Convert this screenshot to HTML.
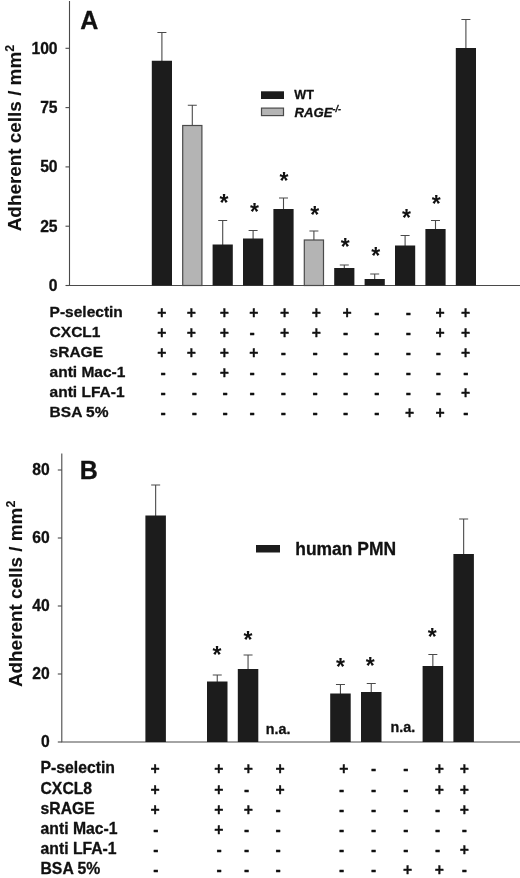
<!DOCTYPE html>
<html lang="en"><head><meta charset="utf-8"><title>Figure</title>
<style>html,body{margin:0;padding:0;background:#fff}svg{display:block}text{fill:#111;stroke:#111;stroke-width:0.3px;stroke-linejoin:round}</style>
</head><body>
<svg width="520" height="878" viewBox="0 0 520 878" font-family="Liberation Sans, Arial, Helvetica, sans-serif" font-weight="bold">
<rect width="520" height="878" fill="#fff"/>
<path d="M69.5 1V285.5H520" stroke="#4a4a4a" stroke-width="1.1" fill="none"/>
<path d="M65.5 285.5H69.5" stroke="#4a4a4a" stroke-width="1.1"/>
<text x="57.6" y="290.8" font-size="15.7" text-anchor="end" >0</text>
<path d="M65.5 226.2H69.5" stroke="#4a4a4a" stroke-width="1.1"/>
<text x="57.6" y="231.5" font-size="15.7" text-anchor="end" >25</text>
<path d="M65.5 166.9H69.5" stroke="#4a4a4a" stroke-width="1.1"/>
<text x="57.6" y="172.2" font-size="15.7" text-anchor="end" >50</text>
<path d="M65.5 107.6H69.5" stroke="#4a4a4a" stroke-width="1.1"/>
<text x="57.6" y="112.9" font-size="15.7" text-anchor="end" >75</text>
<path d="M65.5 48.3H69.5" stroke="#4a4a4a" stroke-width="1.1"/>
<text x="57.6" y="53.6" font-size="15.7" text-anchor="end" >100</text>
<text x="80.2" y="28.6" font-size="25" text-anchor="start" >A</text>
<text transform="translate(21.1,231.3) rotate(-90)" font-size="18.9" style="stroke-width:0.12px">Adherent cells / mm<tspan dy="-7" font-size="12.5">2</tspan></text>
<path d="M161.9 32.5V61.75M157.4 32.5H166.4" stroke="#4a4a4a" stroke-width="1.1" fill="none"/>
<rect x="151.8" y="60.75" width="20.2" height="224.75" fill="#1c1c1c"/>
<path d="M192.3 105.25V126M187.8 105.25H196.8" stroke="#4a4a4a" stroke-width="1.1" fill="none"/>
<rect x="182.7" y="125.5" width="19.2" height="160.0" fill="#b4b4b4" stroke="#4a4a4a" stroke-width="1.2"/>
<path d="M222.7 220.5V245.5M218.2 220.5H227.2" stroke="#4a4a4a" stroke-width="1.1" fill="none"/>
<rect x="212.6" y="244.5" width="20.2" height="41.0" fill="#1c1c1c"/>
<path d="M253.1 230.5V239.5M248.6 230.5H257.6" stroke="#4a4a4a" stroke-width="1.1" fill="none"/>
<rect x="243.0" y="238.5" width="20.2" height="47.0" fill="#1c1c1c"/>
<path d="M283.5 198V210M279.0 198H288.0" stroke="#4a4a4a" stroke-width="1.1" fill="none"/>
<rect x="273.4" y="209" width="20.2" height="76.5" fill="#1c1c1c"/>
<path d="M313.9 231V240.5M309.4 231H318.4" stroke="#4a4a4a" stroke-width="1.1" fill="none"/>
<rect x="304.3" y="240.0" width="19.2" height="45.5" fill="#b4b4b4" stroke="#4a4a4a" stroke-width="1.2"/>
<path d="M344.3 265V269M339.8 265H348.8" stroke="#4a4a4a" stroke-width="1.1" fill="none"/>
<rect x="334.2" y="268" width="20.2" height="17.5" fill="#1c1c1c"/>
<path d="M374.7 274V280M370.2 274H379.2" stroke="#4a4a4a" stroke-width="1.1" fill="none"/>
<rect x="364.6" y="279" width="20.2" height="6.5" fill="#1c1c1c"/>
<path d="M405.1 235.5V246.5M400.6 235.5H409.6" stroke="#4a4a4a" stroke-width="1.1" fill="none"/>
<rect x="395.0" y="245.5" width="20.2" height="40.0" fill="#1c1c1c"/>
<path d="M435.5 220.5V230M431.0 220.5H440.0" stroke="#4a4a4a" stroke-width="1.1" fill="none"/>
<rect x="425.4" y="229" width="20.2" height="56.5" fill="#1c1c1c"/>
<path d="M465.9 19.5V49M461.4 19.5H470.4" stroke="#4a4a4a" stroke-width="1.1" fill="none"/>
<rect x="455.8" y="48" width="20.2" height="237.5" fill="#1c1c1c"/>
<text x="223.9" y="211.0" font-size="23" text-anchor="middle" style="stroke-width:0">*</text>
<text x="254.5" y="220.2" font-size="23" text-anchor="middle" style="stroke-width:0">*</text>
<text x="284.1" y="188.9" font-size="23" text-anchor="middle" style="stroke-width:0">*</text>
<text x="314.7" y="222.7" font-size="23" text-anchor="middle" style="stroke-width:0">*</text>
<text x="345.25" y="255.1" font-size="23" text-anchor="middle" style="stroke-width:0">*</text>
<text x="375.75" y="264.4" font-size="23" text-anchor="middle" style="stroke-width:0">*</text>
<text x="406.6" y="226.0" font-size="23" text-anchor="middle" style="stroke-width:0">*</text>
<text x="436.25" y="212.0" font-size="23" text-anchor="middle" style="stroke-width:0">*</text>
<rect x="261" y="91.3" width="23" height="7.7" fill="#1c1c1c"/>
<rect x="261.5" y="108.1" width="22" height="7.5" fill="#b4b4b4" stroke="#4a4a4a" stroke-width="1.2"/>
<text x="294.3" y="98.9" font-size="12.6" text-anchor="start" >WT</text>
<text x="294.5" y="116.5" font-size="13.2" font-style="italic">RAGE<tspan dy="-4.6" font-size="9">-/-</tspan></text>
<text x="49.6" y="317.0" font-size="15.5" text-anchor="start" >P-selectin</text>
<text x="161.75" y="318.0" font-size="15.7" text-anchor="middle" >+</text>
<text x="191.25" y="318.0" font-size="15.7" text-anchor="middle" >+</text>
<text x="224.25" y="318.0" font-size="15.7" text-anchor="middle" >+</text>
<text x="253.75" y="318.0" font-size="15.7" text-anchor="middle" >+</text>
<text x="284.5" y="318.0" font-size="15.7" text-anchor="middle" >+</text>
<text x="316.25" y="318.0" font-size="15.7" text-anchor="middle" >+</text>
<text x="347" y="318.0" font-size="15.7" text-anchor="middle" >+</text>
<text x="376.75" y="317.9" font-size="15.7" text-anchor="middle" >-</text>
<text x="408.25" y="317.9" font-size="15.7" text-anchor="middle" >-</text>
<text x="440" y="318.0" font-size="15.7" text-anchor="middle" >+</text>
<text x="465.5" y="318.0" font-size="15.7" text-anchor="middle" >+</text>
<text x="49.6" y="337.0" font-size="15.5" text-anchor="start" >CXCL1</text>
<text x="161.75" y="338.0" font-size="15.7" text-anchor="middle" >+</text>
<text x="191.25" y="338.0" font-size="15.7" text-anchor="middle" >+</text>
<text x="224.25" y="338.0" font-size="15.7" text-anchor="middle" >+</text>
<text x="252" y="337.9" font-size="15.7" text-anchor="middle" >-</text>
<text x="284.5" y="338.0" font-size="15.7" text-anchor="middle" >+</text>
<text x="316.25" y="338.0" font-size="15.7" text-anchor="middle" >+</text>
<text x="345.5" y="337.9" font-size="15.7" text-anchor="middle" >-</text>
<text x="376.75" y="337.9" font-size="15.7" text-anchor="middle" >-</text>
<text x="408.25" y="337.9" font-size="15.7" text-anchor="middle" >-</text>
<text x="440" y="338.0" font-size="15.7" text-anchor="middle" >+</text>
<text x="465.5" y="338.0" font-size="15.7" text-anchor="middle" >+</text>
<text x="49.6" y="357.0" font-size="15.5" text-anchor="start" >sRAGE</text>
<text x="161.75" y="358.0" font-size="15.7" text-anchor="middle" >+</text>
<text x="191.25" y="358.0" font-size="15.7" text-anchor="middle" >+</text>
<text x="224.25" y="358.0" font-size="15.7" text-anchor="middle" >+</text>
<text x="253.75" y="358.0" font-size="15.7" text-anchor="middle" >+</text>
<text x="283.25" y="357.9" font-size="15.7" text-anchor="middle" >-</text>
<text x="315" y="357.9" font-size="15.7" text-anchor="middle" >-</text>
<text x="345.5" y="357.9" font-size="15.7" text-anchor="middle" >-</text>
<text x="376.75" y="357.9" font-size="15.7" text-anchor="middle" >-</text>
<text x="408.25" y="357.9" font-size="15.7" text-anchor="middle" >-</text>
<text x="438.25" y="357.9" font-size="15.7" text-anchor="middle" >-</text>
<text x="465.5" y="358.0" font-size="15.7" text-anchor="middle" >+</text>
<text x="49.6" y="377.0" font-size="15.5" text-anchor="start" >anti Mac-1</text>
<text x="163" y="377.9" font-size="15.7" text-anchor="middle" >-</text>
<text x="194.25" y="377.9" font-size="15.7" text-anchor="middle" >-</text>
<text x="224.25" y="378.0" font-size="15.7" text-anchor="middle" >+</text>
<text x="252" y="377.9" font-size="15.7" text-anchor="middle" >-</text>
<text x="283.25" y="377.9" font-size="15.7" text-anchor="middle" >-</text>
<text x="315" y="377.9" font-size="15.7" text-anchor="middle" >-</text>
<text x="345.5" y="377.9" font-size="15.7" text-anchor="middle" >-</text>
<text x="376.75" y="377.9" font-size="15.7" text-anchor="middle" >-</text>
<text x="408.25" y="377.9" font-size="15.7" text-anchor="middle" >-</text>
<text x="438.25" y="377.9" font-size="15.7" text-anchor="middle" >-</text>
<text x="465.75" y="377.9" font-size="15.7" text-anchor="middle" >-</text>
<text x="49.6" y="397.0" font-size="15.5" text-anchor="start" >anti LFA-1</text>
<text x="163" y="397.9" font-size="15.7" text-anchor="middle" >-</text>
<text x="194.25" y="397.9" font-size="15.7" text-anchor="middle" >-</text>
<text x="225" y="397.9" font-size="15.7" text-anchor="middle" >-</text>
<text x="252" y="397.9" font-size="15.7" text-anchor="middle" >-</text>
<text x="283.25" y="397.9" font-size="15.7" text-anchor="middle" >-</text>
<text x="315" y="397.9" font-size="15.7" text-anchor="middle" >-</text>
<text x="345.5" y="397.9" font-size="15.7" text-anchor="middle" >-</text>
<text x="376.75" y="397.9" font-size="15.7" text-anchor="middle" >-</text>
<text x="408.25" y="397.9" font-size="15.7" text-anchor="middle" >-</text>
<text x="438.25" y="397.9" font-size="15.7" text-anchor="middle" >-</text>
<text x="465.5" y="398.0" font-size="15.7" text-anchor="middle" >+</text>
<text x="49.6" y="417.0" font-size="15.5" text-anchor="start" >BSA 5%</text>
<text x="163" y="417.9" font-size="15.7" text-anchor="middle" >-</text>
<text x="194.25" y="417.9" font-size="15.7" text-anchor="middle" >-</text>
<text x="225" y="417.9" font-size="15.7" text-anchor="middle" >-</text>
<text x="252" y="417.9" font-size="15.7" text-anchor="middle" >-</text>
<text x="283.25" y="417.9" font-size="15.7" text-anchor="middle" >-</text>
<text x="315" y="417.9" font-size="15.7" text-anchor="middle" >-</text>
<text x="345.5" y="417.9" font-size="15.7" text-anchor="middle" >-</text>
<text x="376.75" y="417.9" font-size="15.7" text-anchor="middle" >-</text>
<text x="409.5" y="418.0" font-size="15.7" text-anchor="middle" >+</text>
<text x="440" y="418.0" font-size="15.7" text-anchor="middle" >+</text>
<text x="465.75" y="417.9" font-size="15.7" text-anchor="middle" >-</text>
<path d="M61.8 453.5V742H520" stroke="#4a4a4a" stroke-width="1.1" fill="none"/>
<path d="M57.8 742.0H61.8" stroke="#4a4a4a" stroke-width="1.1"/>
<text x="49.8" y="747.3" font-size="15.7" text-anchor="end" >0</text>
<path d="M57.8 674.0H61.8" stroke="#4a4a4a" stroke-width="1.1"/>
<text x="49.8" y="679.3" font-size="15.7" text-anchor="end" >20</text>
<path d="M57.8 606.0H61.8" stroke="#4a4a4a" stroke-width="1.1"/>
<text x="49.8" y="611.3" font-size="15.7" text-anchor="end" >40</text>
<path d="M57.8 538.0H61.8" stroke="#4a4a4a" stroke-width="1.1"/>
<text x="49.8" y="543.3" font-size="15.7" text-anchor="end" >60</text>
<path d="M57.8 470.0H61.8" stroke="#4a4a4a" stroke-width="1.1"/>
<text x="49.8" y="475.3" font-size="15.7" text-anchor="end" >80</text>
<text x="79.8" y="478.6" font-size="25" text-anchor="start" >B</text>
<text transform="translate(21.6,687.1) rotate(-90)" font-size="18.9" style="stroke-width:0.12px">Adherent cells / mm<tspan dy="-7" font-size="12.5">2</tspan></text>
<path d="M155.65 485V516.5M151.15 485H160.15" stroke="#4a4a4a" stroke-width="1.1" fill="none"/>
<rect x="145.4" y="515.5" width="20.5" height="226.5" fill="#1c1c1c"/>
<path d="M217.25 675V682.5M212.75 675H221.75" stroke="#4a4a4a" stroke-width="1.1" fill="none"/>
<rect x="207.0" y="681.5" width="20.5" height="60.5" fill="#1c1c1c"/>
<path d="M248.05 655V670M243.55 655H252.55" stroke="#4a4a4a" stroke-width="1.1" fill="none"/>
<rect x="237.8" y="669" width="20.5" height="73" fill="#1c1c1c"/>
<path d="M340.45 684.5V694.5M335.95 684.5H344.95" stroke="#4a4a4a" stroke-width="1.1" fill="none"/>
<rect x="330.2" y="693.5" width="20.5" height="48.5" fill="#1c1c1c"/>
<path d="M371.25 683.5V693M366.75 683.5H375.75" stroke="#4a4a4a" stroke-width="1.1" fill="none"/>
<rect x="361.0" y="692" width="20.5" height="50" fill="#1c1c1c"/>
<path d="M432.85 654.5V667M428.35 654.5H437.35" stroke="#4a4a4a" stroke-width="1.1" fill="none"/>
<rect x="422.6" y="666" width="20.5" height="76" fill="#1c1c1c"/>
<path d="M463.65 519V555M459.15 519H468.15" stroke="#4a4a4a" stroke-width="1.1" fill="none"/>
<rect x="453.4" y="554" width="20.5" height="188" fill="#1c1c1c"/>
<text x="217" y="663.2" font-size="23" text-anchor="middle" style="stroke-width:0">*</text>
<text x="248.1" y="648.2" font-size="23" text-anchor="middle" style="stroke-width:0">*</text>
<text x="340.4" y="674.7" font-size="23" text-anchor="middle" style="stroke-width:0">*</text>
<text x="370.3" y="673.5" font-size="23" text-anchor="middle" style="stroke-width:0">*</text>
<text x="432.2" y="644.6" font-size="23" text-anchor="middle" style="stroke-width:0">*</text>
<text x="278.1" y="733.7" font-size="14.3" text-anchor="middle" >n.a.</text>
<text x="402.9" y="731.8" font-size="14.3" text-anchor="middle" >n.a.</text>
<rect x="256" y="545" width="24" height="7.5" fill="#1c1c1c"/>
<text x="295.3" y="555.2" font-size="17.45" text-anchor="start" >human PMN</text>
<text x="40.5" y="773.4" font-size="15.75" text-anchor="start" >P-selectin</text>
<text x="155" y="774.4" font-size="15.7" text-anchor="middle" >+</text>
<text x="218.75" y="774.4" font-size="15.7" text-anchor="middle" >+</text>
<text x="248.25" y="774.4" font-size="15.7" text-anchor="middle" >+</text>
<text x="280" y="774.4" font-size="15.7" text-anchor="middle" >+</text>
<text x="343.75" y="774.4" font-size="15.7" text-anchor="middle" >+</text>
<text x="373.5" y="774.3" font-size="15.7" text-anchor="middle" >-</text>
<text x="405.75" y="774.3" font-size="15.7" text-anchor="middle" >-</text>
<text x="439.25" y="774.4" font-size="15.7" text-anchor="middle" >+</text>
<text x="464.25" y="774.4" font-size="15.7" text-anchor="middle" >+</text>
<text x="40.5" y="793.6" font-size="15.75" text-anchor="start" >CXCL8</text>
<text x="155" y="794.6" font-size="15.7" text-anchor="middle" >+</text>
<text x="218.75" y="794.6" font-size="15.7" text-anchor="middle" >+</text>
<text x="246.5" y="794.5" font-size="15.7" text-anchor="middle" >-</text>
<text x="280" y="794.6" font-size="15.7" text-anchor="middle" >+</text>
<text x="341.5" y="794.5" font-size="15.7" text-anchor="middle" >-</text>
<text x="373.5" y="794.5" font-size="15.7" text-anchor="middle" >-</text>
<text x="405.75" y="794.5" font-size="15.7" text-anchor="middle" >-</text>
<text x="439.25" y="794.6" font-size="15.7" text-anchor="middle" >+</text>
<text x="464.25" y="794.6" font-size="15.7" text-anchor="middle" >+</text>
<text x="40.5" y="813.8" font-size="15.75" text-anchor="start" >sRAGE</text>
<text x="155" y="814.8" font-size="15.7" text-anchor="middle" >+</text>
<text x="218.75" y="814.8" font-size="15.7" text-anchor="middle" >+</text>
<text x="248.25" y="814.8" font-size="15.7" text-anchor="middle" >+</text>
<text x="278" y="814.7" font-size="15.7" text-anchor="middle" >-</text>
<text x="341.5" y="814.7" font-size="15.7" text-anchor="middle" >-</text>
<text x="373.5" y="814.7" font-size="15.7" text-anchor="middle" >-</text>
<text x="405.75" y="814.7" font-size="15.7" text-anchor="middle" >-</text>
<text x="437.5" y="814.7" font-size="15.7" text-anchor="middle" >-</text>
<text x="464.25" y="814.8" font-size="15.7" text-anchor="middle" >+</text>
<text x="40.5" y="834.0" font-size="15.75" text-anchor="start" >anti Mac-1</text>
<text x="155.75" y="834.9" font-size="15.7" text-anchor="middle" >-</text>
<text x="218.75" y="835.0" font-size="15.7" text-anchor="middle" >+</text>
<text x="246.5" y="834.9" font-size="15.7" text-anchor="middle" >-</text>
<text x="278" y="834.9" font-size="15.7" text-anchor="middle" >-</text>
<text x="341.5" y="834.9" font-size="15.7" text-anchor="middle" >-</text>
<text x="373.5" y="834.9" font-size="15.7" text-anchor="middle" >-</text>
<text x="405.75" y="834.9" font-size="15.7" text-anchor="middle" >-</text>
<text x="437.5" y="834.9" font-size="15.7" text-anchor="middle" >-</text>
<text x="464.25" y="834.9" font-size="15.7" text-anchor="middle" >-</text>
<text x="40.5" y="854.2" font-size="15.75" text-anchor="start" >anti LFA-1</text>
<text x="155.75" y="855.1" font-size="15.7" text-anchor="middle" >-</text>
<text x="219" y="855.1" font-size="15.7" text-anchor="middle" >-</text>
<text x="246.5" y="855.1" font-size="15.7" text-anchor="middle" >-</text>
<text x="278" y="855.1" font-size="15.7" text-anchor="middle" >-</text>
<text x="341.5" y="855.1" font-size="15.7" text-anchor="middle" >-</text>
<text x="373.5" y="855.1" font-size="15.7" text-anchor="middle" >-</text>
<text x="405.75" y="855.1" font-size="15.7" text-anchor="middle" >-</text>
<text x="437.5" y="855.1" font-size="15.7" text-anchor="middle" >-</text>
<text x="464.25" y="855.2" font-size="15.7" text-anchor="middle" >+</text>
<text x="40.5" y="874.4" font-size="15.75" text-anchor="start" >BSA 5%</text>
<text x="155.75" y="875.3" font-size="15.7" text-anchor="middle" >-</text>
<text x="219" y="875.3" font-size="15.7" text-anchor="middle" >-</text>
<text x="246.5" y="875.3" font-size="15.7" text-anchor="middle" >-</text>
<text x="278" y="875.3" font-size="15.7" text-anchor="middle" >-</text>
<text x="341.5" y="875.3" font-size="15.7" text-anchor="middle" >-</text>
<text x="373.5" y="875.3" font-size="15.7" text-anchor="middle" >-</text>
<text x="407.5" y="875.4" font-size="15.7" text-anchor="middle" >+</text>
<text x="439.25" y="875.4" font-size="15.7" text-anchor="middle" >+</text>
<text x="464.25" y="875.3" font-size="15.7" text-anchor="middle" >-</text>
</svg>
</body></html>
